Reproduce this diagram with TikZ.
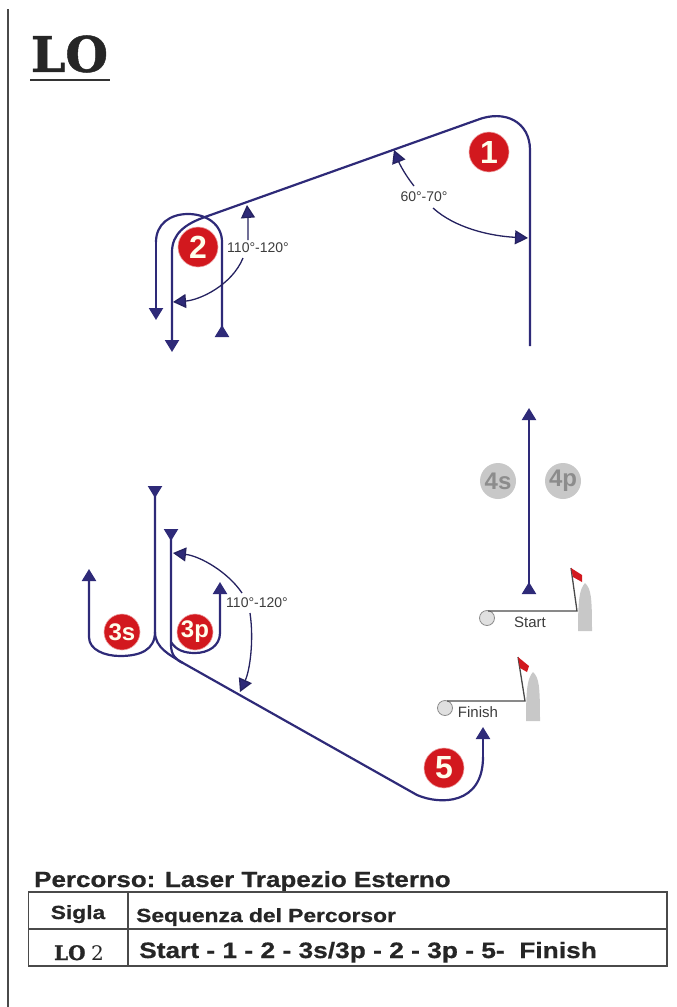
\documentclass[tikz,border=0pt]{standalone}
\usepackage{xcolor}
\usepackage{fontspec}
\usetikzlibrary{arrows.meta}
\setmainfont{Liberation Sans}
\newfontfamily\slabfont[BoldFeatures={FakeBold=1}]{DejaVu Serif}
\newfontfamily\wideheavy[BoldFeatures={FakeStretch=1.18,FakeBold=0.7}]{Liberation Sans}
\newfontfamily\wideheadfont[BoldFeatures={FakeStretch=1.2,FakeBold=0.7}]{Liberation Sans}
\definecolor{courseblue}{HTML}{2E2A78}
\definecolor{markred}{HTML}{D2181E}
\definecolor{boatgray}{HTML}{C8C8C8}
\definecolor{labelgray}{HTML}{3C3C3C}
\definecolor{rulegray}{HTML}{4A4A4A}
\tikzset{
  course/.style={draw=courseblue, line width=2.2pt},
  tipend/.style={-{Triangle[length=12pt,width=14pt,fill=courseblue]}},
  tipstart/.style={{Triangle[reversed,length=12pt,width=14pt,fill=courseblue]}-},
  tipboth/.style={{Triangle[reversed,length=12pt,width=14pt,fill=courseblue]}-{Triangle[length=12pt,width=14pt,fill=courseblue]}},
  angle/.style={draw=courseblue!80!black, line width=1.3pt, -{Triangle[length=13pt,width=14pt,fill=courseblue]}},
  redmark/.style={circle, fill=markred, draw=markred!40!white, line width=0.6pt, minimum size=40pt, inner sep=0pt, text=white!92!yellow, font=\fontsize{32}{32}\selectfont\bfseries},
  redmarks/.style={redmark, minimum size=36pt, font=\fontsize{24}{24}\selectfont\bfseries},
  graymark/.style={circle, fill=boatgray, minimum size=36pt, inner sep=0pt, text=black!45, font=\fontsize{24}{24}\selectfont\bfseries},
  anglelabel/.style={inner sep=0pt, text=labelgray, font=\fontsize{14}{14}\selectfont},
  linelabel/.style={inner sep=0pt, text=labelgray, font=\fontsize{15}{15}\selectfont},
  pinend/.style={circle, draw=black!45, fill=black!12, line width=0.8pt, minimum size=15pt, inner sep=0pt},
  boat/.style={fill=boatgray, draw=none},
  flag/.style={fill=markred, draw=none},
  thinline/.style={draw=rulegray, line width=1.3pt},
  tablerule/.style={draw=rulegray, line width=1.4pt},
  tabletext/.style={inner sep=0pt, text=black!85},
}
\begin{document}
\begin{tikzpicture}[x=1pt,y=-1pt]
  \useasboundingbox (0,0) rectangle (677,1007);
  \coordinate(MarginTop) at (8,9);
  \coordinate(MarginEnd) at (8,1007);
  \draw[draw=rulegray, line width=1.8pt] (MarginTop) -- (MarginEnd);

  \node(Title) at (69.5,54) [inner sep=0pt, text=black!85, font=\fontsize{49}{49}\selectfont\slabfont\bfseries] {LO};
  \coordinate(TitleRuleA) at (30,80);
  \coordinate(TitleRuleB) at (110,80);
  \draw[draw=black!80, line width=2.6pt] (TitleRuleA) -- (TitleRuleB);

  % leg to mark 1 and on to mark 2
  \node(Mark1) at (489,152) [redmark] {1};
  \node(Mark2) at (198,247) [redmark] {2};
  \coordinate(LegA) at (530,346);
  \coordinate(LegB) at (530,150);
  \coordinate(LegC) at (477,120);
  \coordinate(LegD) at (205,217);
  \coordinate(LegE) at (172,252);
  \coordinate(LegF) at (172,352);
  \draw[course, tipend] (LegA) -- (LegB) .. controls (530,122) and (505,109) .. (LegC)
      -- (LegD) .. controls (185,224) and (172,234) .. (LegE) -- (LegF);

  \coordinate(LoopA) at (222,337);
  \coordinate(LoopB) at (222,242);
  \coordinate(LoopC) at (188,214);
  \coordinate(LoopD) at (156,242);
  \coordinate(LoopE) at (156,320);
  \draw[course, tipstart] (LoopA) -- (LoopB) .. controls (222,224) and (206,214) .. (LoopC)
      .. controls (170,214) and (156,224) .. (LoopD);
  \draw[course, tipend] (LoopD) -- (LoopE);

  % angle at mark 1
  \node(AngleTop) at (424,197) [anglelabel] {60°-70°};
  \coordinate(AngleTopA) at (414,186);
  \coordinate(AngleTopB) at (394,150);
  \coordinate(AngleTopC) at (433,208);
  \coordinate(AngleTopD) at (528,238);
  \draw[angle] (AngleTopA) .. controls (406,176) and (400,165) .. (AngleTopB);
  \draw[angle] (AngleTopC) .. controls (455,228) and (490,236) .. (AngleTopD);

  % angle at mark 2
  \node(AngleMid) at (258,248) [anglelabel] {110°-120°};
  \coordinate(AngleMidA) at (248,240);
  \coordinate(AngleMidB) at (247,205);
  \coordinate(AngleMidC) at (243,258);
  \coordinate(AngleMidD) at (173,302);
  \draw[angle] (AngleMidA) .. controls (248,228) and (248,218) .. (AngleMidB);
  \draw[angle] (AngleMidC) .. controls (232,285) and (200,300) .. (AngleMidD);

  % beat on the right
  \node(Mark4s) at (498,481) [graymark] {4s};
  \node(Mark4p) at (563,481) [graymark] {4p};
  \coordinate(BeatA) at (529,594);
  \coordinate(BeatB) at (529,408);
  \draw[course, tipboth] (BeatA) -- (BeatB);

  % start line
  \node(PinStart) at (487,618) [pinend] {};
  \node(TextStart) at (530,622) [linelabel] {Start};
  \coordinate(StartA) at (488,611);
  \coordinate(StartB) at (577,611);
  \coordinate(StartC) at (571,568);
  \draw[thinline] (StartA) -- (StartB) -- (StartC);
  \fill[flag] (StartC) -- (582,575) -- (582,582) -- (573,577) -- cycle;
  \fill[boat] (585,583) .. controls (580,589) and (578,596) .. (578,631) -- (592,631)
      .. controls (592,596) and (591,589) .. (585,583) -- cycle;

  % finish line
  \node(PinFinish) at (445,708) [pinend] {};
  \node(TextFinish) at (478,712) [linelabel] {Finish};
  \coordinate(FinishA) at (447,701);
  \coordinate(FinishB) at (525,701);
  \coordinate(FinishC) at (518,657);
  \draw[thinline] (FinishA) -- (FinishB) -- (FinishC);
  \fill[flag] (FinishC) -- (529,666) -- (527,672) -- (520,668) -- cycle;
  \fill[boat] (533,672) .. controls (528,678) and (526,685) .. (526,721) -- (540,721)
      .. controls (540,685) and (539,678) .. (533,672) -- cycle;

  % gates and the run to mark 5
  \node(Mark3s) at (122,632) [redmarks] {3s};
  \node(Mark3p) at (195,632) [redmarks] {3p};
  \node(Mark5) at (444,768) [redmark] {5};
  \coordinate(RunA) at (155,486);
  \coordinate(RunB) at (155,632);
  \coordinate(RunC) at (183,663);
  \coordinate(RunD) at (417,795);
  \coordinate(RunE) at (483,757);
  \coordinate(RunF) at (483,727);
  \coordinate(RunG) at (171,529);
  \coordinate(RunH) at (171,645);
  \draw[course, tipstart] (RunA) -- (RunB) .. controls (155,648) and (170,655) .. (RunC);
  \draw[course, tipstart] (RunG) -- (RunH) .. controls (171,655) and (176,660) .. (RunC)
      -- (RunD) .. controls (440,805) and (483,805) .. (RunE);
  \draw[course, tipend] (RunE) -- (RunF);
  \coordinate(GateLeftA) at (89,569);
  \coordinate(GateLeftB) at (89,637);
  \coordinate(GateLeftC) at (120,656);
  \draw[course, {Triangle[length=12pt,width=14pt,fill=courseblue]}-] (GateLeftA) -- (GateLeftB)
      .. controls (89,650) and (105,656) .. (GateLeftC) .. controls (140,656) and (155,650) .. (RunB);
  \coordinate(GateRightA) at (220,582);
  \coordinate(GateRightB) at (220,633);
  \coordinate(GateRightC) at (195,653);
  \coordinate(GateRightD) at (171,642);
  \draw[course, {Triangle[length=12pt,width=14pt,fill=courseblue]}-] (GateRightA) -- (GateRightB)
      .. controls (220,646) and (208,653) .. (GateRightC) .. controls (184,653) and (176,650) .. (GateRightD);

  % angle at the gates
  \node(AngleLow) at (257,603) [anglelabel] {110°-120°};
  \coordinate(AngleLowA) at (242,593);
  \coordinate(AngleLowB) at (173,553);
  \coordinate(AngleLowC) at (250,613);
  \coordinate(AngleLowD) at (240,692);
  \draw[angle] (AngleLowA) .. controls (228,572) and (200,556) .. (AngleLowB);
  \draw[angle] (AngleLowC) .. controls (254,640) and (250,670) .. (AngleLowD);

  % table
  \node(Course) at (34,887) [anchor=base west, tabletext, font=\fontsize{22}{22}\selectfont\wideheavy\bfseries] {Percorso: Laser Trapezio Esterno};
  \coordinate(TableNW) at (28.5,892);
  \coordinate(TableSE) at (667,966);
  \coordinate(TableW) at (28.5,929);
  \coordinate(TableE) at (667,929);
  \coordinate(TableN) at (128,892);
  \coordinate(TableS) at (128,966);
  \draw[tablerule] (TableNW) rectangle (TableSE);
  \draw[tablerule] (TableW) -- (TableE);
  \draw[tablerule] (TableN) -- (TableS);
  \node(HeadSigla) at (78,919) [anchor=base, tabletext, font=\fontsize{19}{19}\selectfont\wideheadfont\bfseries] {Sigla};
  \node(HeadSeq) at (136,922) [anchor=base west, tabletext, font=\fontsize{19}{19}\selectfont\wideheadfont\bfseries] {Sequenza del Percorsor};
  \node(CellCode) at (79,960) [anchor=base, tabletext, font=\fontsize{20}{20}\selectfont] {{\slabfont\bfseries LO} {\slabfont 2}};
  \node(CellSeq) at (139,958) [anchor=base west, tabletext, font=\fontsize{22.3}{22.3}\selectfont\wideheavy\bfseries] {Start - 1 - 2 - 3s/3p - 2 - 3p - 5-\ \ Finish};
\end{tikzpicture}
\end{document}
